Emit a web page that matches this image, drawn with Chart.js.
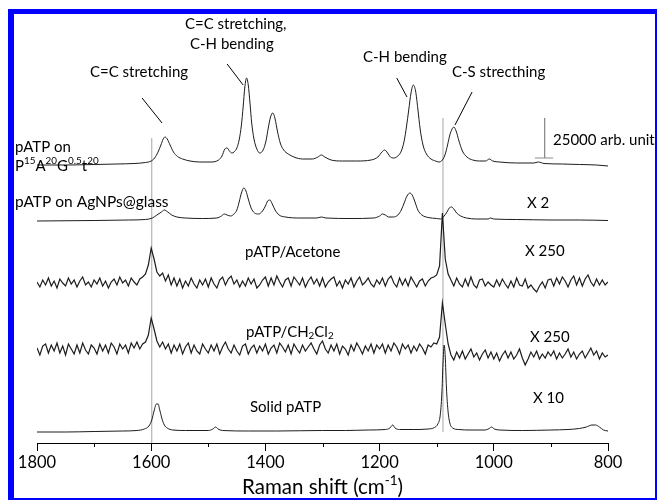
<!DOCTYPE html>
<html>
<head>
<meta charset="utf-8">
<script src="https://cdn.jsdelivr.net/npm/chart.js@4.4.1/dist/chart.umd.min.js"></script>
<style>
  html, body { margin: 0; padding: 0; background: #fff; }
  #wrap { position: relative; width: 658px; height: 501px; }
  #frame {
    position: absolute; left: 8px; top: 9px; width: 649px; height: 491px;
    box-sizing: border-box; pointer-events: none;
    border-left: 6px solid #0000ff; border-top: 5px solid #0000ff;
    border-right: 2px solid #0000ff; border-bottom: 2px solid #0000ff;
  }
</style>
</head>
<body>
<div id="wrap">
  <canvas id="ramanChart" width="658" height="501"></canvas>
  <div id="frame"></div>
</div>
<script>
// Raman spectra of pATP, stacked with vertical offsets (arb. units)

// pATP on P15A20G0.5t20
const pagtWn = [1800,1750,1700,1660,1630,1610,1600,1594,1588,1583,1579,1576,1572,1567,1561,1554,1545,1532,1515,1495,
  1482,1476,1471,1467,1463,1459,1455,1450,1446,1442,1439,1436,1433,1430,1427,1424,1420,1415,1410,1404,
  1399,1395,1391,1387,1383,1379,1374,1368,1360,1350,1335,1318,1308,1302,1296,1285,1265,1240,1215,1203,
  1196,1191,1186,1181,1175,1168,1162,1157,1153,1149,1145,1141,1137,1133,1129,1124,1118,1110,1102,1096,
  1090,1085,1081,1077,1073,1070,1066,1061,1055,1047,1037,1025,1014,1008,1002,990,960,930,922,912,
  880,850,820,800];
const pagtInt = [0,0,0.5,1,1.5,2.5,4,7,13,20,26,28,26,20,13,8.5,6,4,3,3,
  5,9,16,17,14,12,13,17,25,40,58,78,87,80,62,42,26,16,12,15,
  24,37,48,52,46,34,22,15,11,8,6,6,8,10,8,5,4,4,5,8,
  13,15,12,8,7,9,14,24,38,55,72,80,74,56,36,20,11,6,4,3,
  5,11,20,30,36,38,34,24,14,8,5,4,4,6,4,3,2,2,3,1.5,
  1,0.5,0,-1];

// pATP on AgNPs@glass (x 2)
const agWn = [1800,1700,1640,1610,1598,1590,1582,1577,1571,1564,1555,1540,1510,1485,1477,1472,1467,1461,1455,1450,
  1446,1442,1438,1434,1430,1425,1419,1412,1405,1400,1396,1392,1388,1383,1376,1365,1340,1310,1302,1294,
  1250,1210,1200,1195,1190,1184,1176,1168,1162,1157,1152,1147,1143,1138,1133,1126,1115,1100,1093,1087,
  1082,1078,1074,1070,1065,1058,1048,1030,1010,1006,1000,960,900,850,800];
const agInt = [-1,-0.5,0,0.5,2,5,8,10,8,5,3,2,1.5,2,4,6,5,4,6,10,
  18,27,32,29,21,12,7,6,9,14,19,20,16,10,5,3,2,2,3,2,
  1.5,2,4,6,5,3,3,5,10,17,24,27,25,18,10,5,2.5,1.5,1,4,
  8,12,13,11,7,4,2,1,1,2,1,0.5,0,0,-0.5];

// pATP/Acetone (x 250), sampled every 5 cm-1 from 1800 down to 800
const acetoneInt = [
  1,-4,3,-2,5,-3,2,-5,4,0,-3,5,-1,3,-4,2,6,-2,1,-4,
  3,-1,5,-3,2,-5,1,4,-2,6,0,3,-3,5,1,-2,4,6,9,18,
  35,24,11,7,10,2,8,-2,5,-3,4,-5,2,-3,5,-1,-5,3,-2,4,
  -4,5,-1,-5,3,6,-2,4,7,-1,3,-4,2,-3,5,-1,4,-5,-2,3,
  6,-3,5,-2,7,1,-4,3,5,-3,6,2,-2,5,-4,2,6,-1,4,-3,
  5,-4,1,4,6,-3,2,-5,3,-1,5,-4,2,6,-2,1,5,-1,-4,3,
  -1,5,-3,4,7,0,-4,5,-2,4,-3,6,1,-4,2,4,-3,2,5,6,
  8,17,70,24,9,3,-3,5,-1,-4,4,-3,6,-2,-5,3,4,-3,1,-2,
  -4,3,-3,4,-1,-5,2,-4,5,-2,-3,4,-5,-2,-6,-9,-3,1,-5,3,
  4,-3,5,-1,6,2,-4,3,7,-2,5,-3,4,8,1,-3,4,-2,3,-2,
  1];

// pATP/CH2Cl2 (x 250), same sampling
const dcmInt = [
  2,-5,4,6,-3,5,-1,7,-3,4,-5,6,1,-4,5,-3,7,0,-4,5,
  2,-4,6,-1,5,-3,7,3,-4,6,1,5,-3,7,2,8,1,6,8,15,
  32,21,9,3,8,1,6,-3,5,-1,6,-4,3,7,-3,5,-1,-4,6,1,
  -3,5,-1,6,-4,3,8,1,-3,5,-1,-5,4,6,-4,2,5,-3,4,-1,
  6,-4,2,5,-3,7,3,-2,5,-4,6,1,-3,5,-1,3,7,1,-4,5,
  9,1,-3,5,-1,6,-4,4,1,-5,5,-1,7,2,-4,4,-1,6,-3,5,
  1,6,-3,5,-1,7,3,-4,6,1,5,-3,4,-1,6,2,-4,5,3,7,
  6,13,47,26,6,-5,-10,-2,-8,-1,-9,-4,1,-7,-3,-10,-4,0,-8,-2,
  -9,-3,-11,-5,-1,-8,-2,-9,-5,1,-8,-15,-9,-2,-7,-1,-9,-4,-8,-2,
  -6,-1,-9,-3,-8,-4,1,-7,-2,-9,-4,-1,-8,-3,2,-5,-1,-9,-3,-7,
  -5];

// Solid pATP (x 10)
const solidWn = [1800,1750,1700,1650,1625,1612,1604,1599,1595,1591,1588,1585,1581,1577,1572,1562,1540,1500,1492,1487,
  1483,1475,1430,1380,1300,1260,1220,1190,1182,1177,1173,1165,1140,1115,1104,1098,1094,1091,1089,1087,
  1085,1083,1080,1077,1072,1062,1040,1015,1008,1004,999,990,950,900,870,850,838,828,822,815,
  808,800];
const solidInt = [0,0,0.5,1,1.5,3,6,12,21,28,28,22,13,7,4,2,1.5,1.5,3,5,
  3,1.5,1,1,1.5,1.5,2,2.5,4,7,4,2.5,2.5,3,4.5,8,16,38,68,87,
  75,45,20,9,4,2.5,2,2,3.5,5,3,2,1.5,2,2.5,3.5,5,7,7,5,
  2,1];

const GRID_START = 1800;
const GRID_STEP = 5;
const offsets = [278, 223, 160, 93, 11];   // baseline of each trace
const refLines = [1599, 1089];             // grey marker lines
const refLineSpan = [[0, 305], [11, 325]];
const majorTicks = [1800, 1600, 1400, 1200, 1000, 800];
const minorTicks = [1700, 1500, 1300, 1100, 900];

// leader lines from the band labels, [wn1, y1, wn2, y2]
const leaders = [
  [1616, 345, 1581, 320],
  [1467, 379, 1439, 358],
  [1170, 365, 1152, 346],
  [1038, 351, 1068, 318],
];
// 25000 arb. unit scale bar
const scaleBar = [[911, 325], [911, 285], [928, 285], [896, 285]];

const FONT = 'Lato, "Open Sans", sans-serif';

const toPoints = (wn, vals, offset) => wn.map((x, i) => ({ x, y: vals[i] + offset }));
const gridWn = acetoneInt.map((_, i) => GRID_START - i * GRID_STEP);

const trace = (data, smooth) => ({
  data,
  borderColor: '#1c1c1c',
  borderWidth: smooth ? 1 : 1.2,
  pointRadius: 0,
  cubicInterpolationMode: smooth ? 'monotone' : 'default',
  tension: 0,
  order: 1,
});

const datasets = [
  trace(toPoints(pagtWn, pagtInt, offsets[0]), true),
  trace(toPoints(agWn, agInt, offsets[1]), true),
  trace(toPoints(gridWn, acetoneInt, offsets[2]), false),
  trace(toPoints(gridWn, dcmInt, offsets[3]), false),
  trace(toPoints(solidWn, solidInt, offsets[4]), true),
];

refLines.forEach((wn, i) => {
  datasets.push({
    data: refLineSpan[i].map((y) => ({ x: wn, y })),
    borderColor: '#a6a6a6', borderWidth: 1, pointRadius: 0, order: 5,
  });
});

leaders.forEach(([x1, y1, x2, y2]) => {
  datasets.push({
    data: [{ x: x1, y: y1 }, { x: x2, y: y2 }],
    borderColor: '#000', borderWidth: 1, pointRadius: 0, order: 0,
  });
});

datasets.push({
  data: scaleBar.slice(0, 2).map(([x, y]) => ({ x, y })),
  borderColor: '#8c8c8c', borderWidth: 1, pointRadius: 0, order: 0,
});
datasets.push({
  data: scaleBar.slice(2).map(([x, y]) => ({ x, y })),
  borderColor: '#8c8c8c', borderWidth: 1, pointRadius: 0, order: 0,
});

// text labels, drawn in pixels; parts are [text, 'sup' | 'sub' | undefined]
const textLabels = [
  { parts: [['C=C stretching']], x: 90, y: 72 },
  { parts: [['C=C stretching,']], x: 185, y: 24 },
  { parts: [['C-H bending']], x: 190, y: 44 },
  { parts: [['C-H bending']], x: 363, y: 57 },
  { parts: [['C-S strecthing']], x: 452, y: 72 },
  { parts: [['25000 arb. unit']], x: 553, y: 140 },
  { parts: [['pATP on']], x: 15, y: 147 },
  { parts: [['P'], ['15', 'sup'], ['A'], ['20', 'sup'], ['G'], ['0.5', 'sup'], ['t'], ['20', 'sup']], x: 15, y: 166 },
  { parts: [['pATP on AgNPs@glass']], x: 15, y: 202, size: 15.5 },
  { parts: [['X 2']], x: 527, y: 203 },
  { parts: [['pATP/Acetone']], x: 245, y: 252 },
  { parts: [['X 250']], x: 525, y: 251 },
  { parts: [['pATP/CH'], ['2', 'sub'], ['Cl'], ['2', 'sub']], x: 246, y: 332 },
  { parts: [['X 250']], x: 530, y: 337 },
  { parts: [['Solid pATP']], x: 250, y: 407 },
  { parts: [['X 10']], x: 533, y: 398 },
];

const drawRich = (ctx, parts, x, y, size) => {
  let cx = x;
  parts.forEach(([t, mode]) => {
    const s = mode ? size * 0.66 : size;
    const dy = mode === 'sup' ? -size * 0.32 : mode === 'sub' ? size * 0.28 : 0;
    ctx.font = `${s}px ${FONT}`;
    ctx.fillText(t, cx, y + dy);
    cx += ctx.measureText(t).width;
  });
};

const annotationPlugin = {
  id: 'annotations',
  afterDraw(chart) {
    const { ctx, chartArea, scales: { x } } = chart;
    const axisY = chartArea.bottom;
    ctx.save();
    ctx.strokeStyle = '#000';
    ctx.lineWidth = 1;
    minorTicks.forEach((v) => {
      const px = Math.round(x.getPixelForValue(v)) + 0.5;
      ctx.beginPath();
      ctx.moveTo(px, axisY);
      ctx.lineTo(px, axisY + 4);
      ctx.stroke();
    });

    ctx.fillStyle = '#000';
    ctx.textBaseline = 'middle';
    ctx.textAlign = 'left';
    textLabels.forEach((l) => drawRich(ctx, l.parts, l.x, l.y, l.size || 15));

    // axis title
    const title = [['Raman shift (cm'], ['-1', 'sup'], [')']];
    const tSize = 20.5;
    let w = 0;
    title.forEach(([t, mode]) => {
      ctx.font = `${mode ? tSize * 0.66 : tSize}px ${FONT}`;
      w += ctx.measureText(t).width;
    });
    const cx = (chartArea.left + chartArea.right) / 2;
    drawRich(ctx, title, cx - w / 2, 487, tSize);
    ctx.restore();
  },
};

new Chart(document.getElementById('ramanChart'), {
  type: 'line',
  data: { datasets },
  options: {
    responsive: false,
    animation: false,
    devicePixelRatio: 1,
    layout: { padding: { left: 37, right: 50, top: 10, bottom: 0 } },
    plugins: { legend: { display: false }, tooltip: { enabled: false } },
    scales: {
      x: {
        type: 'linear',
        min: 800,
        max: 1800,
        reverse: true,
        afterFit: (s) => { s.height = 58; },
        afterBuildTicks: (s) => { s.ticks = majorTicks.map((value) => ({ value })); },
        ticks: {
          color: '#000',
          font: { family: FONT, size: 16.5 },
          padding: 2,
          maxRotation: 0,
          callback: (v) => String(v),
        },
        grid: { drawOnChartArea: false, tickLength: 8, color: '#000' },
        border: { color: '#000', width: 1 },
      },
      y: { display: false, min: 0, max: 433 },
    },
  },
  plugins: [annotationPlugin],
});
</script>
</body>
</html>
